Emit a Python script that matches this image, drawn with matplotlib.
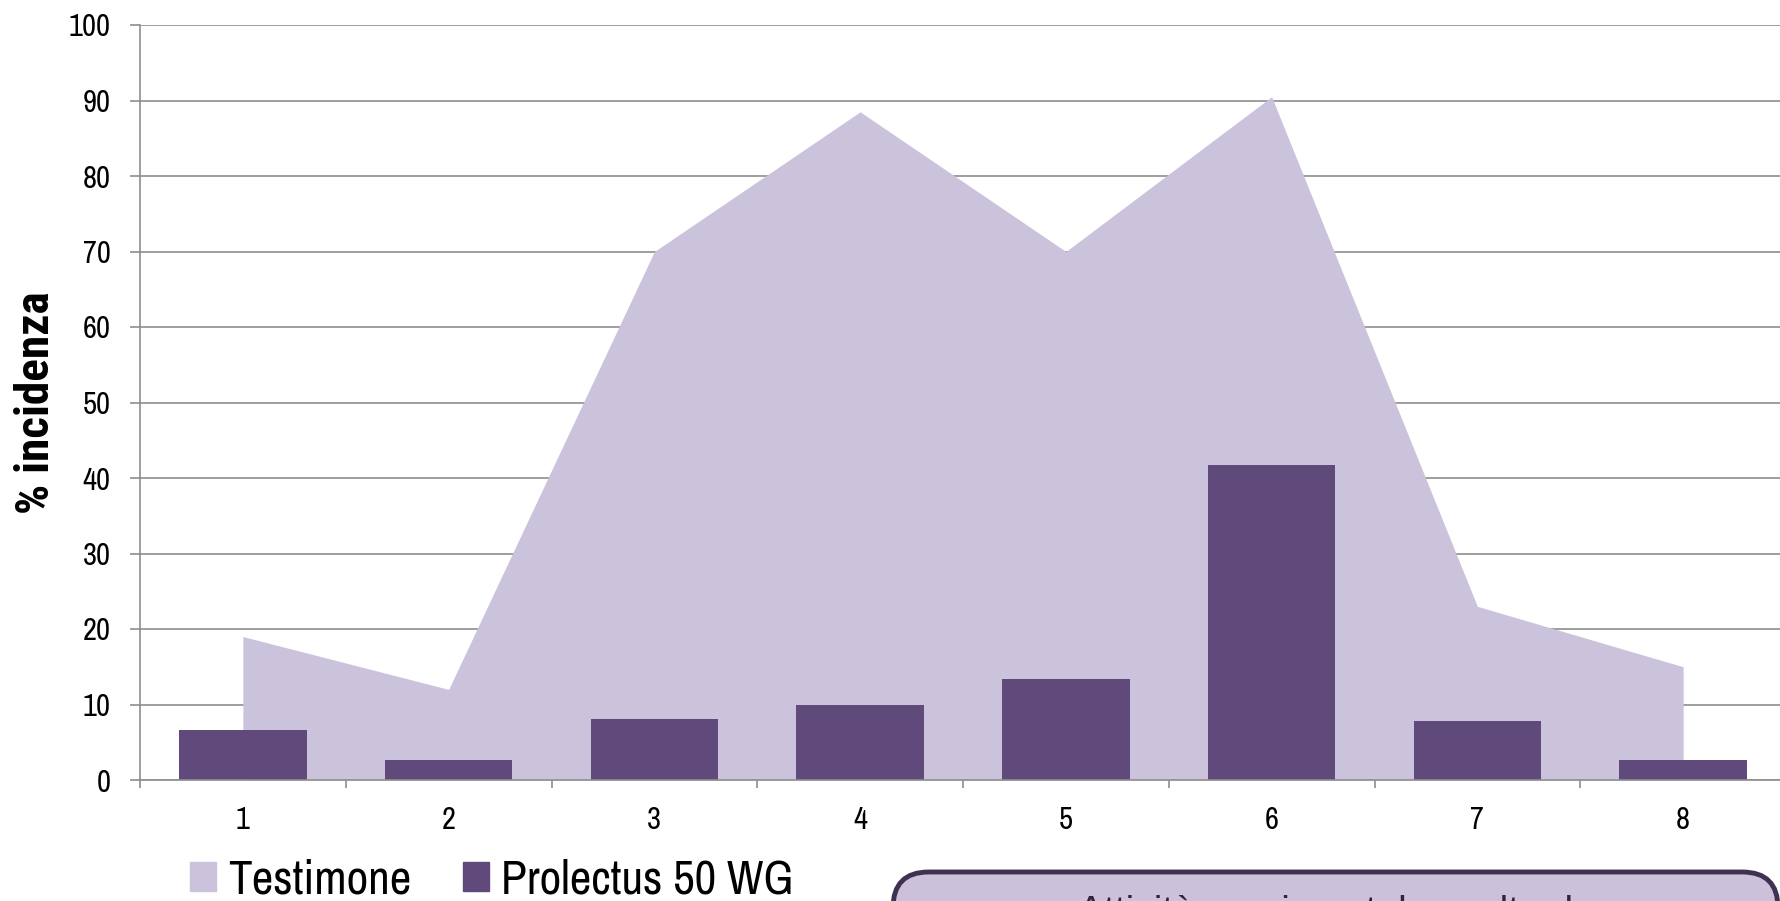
import numpy as np
import matplotlib.pyplot as plt
from matplotlib.patches import FancyBboxPatch, Patch

categories = ['1', '2', '3', '4', '5', '6', '7', '8']
testimone = [19, 12, 70, 88.5, 70, 90.5, 23, 15]
prolectus = [6.6, 2.7, 8.1, 10, 13.4, 41.7, 7.8, 2.6]
yticks = [0, 10, 20, 30, 40, 50, 60, 70, 80, 90, 100]

light = '#CBC2DB'
dark = '#604A7B'
grid_col = '#8E8E8E'

plt.rcParams['font.family'] = ['Archivo Narrow', 'Roboto Condensed', 'DejaVu Sans']


def main():
    fig = plt.figure(figsize=(17.81, 9.01), dpi=100)
    ax = fig.add_axes([140 / 1781, 121 / 901, 1646 / 1781, 755 / 901])

    x = np.arange(len(categories))
    ax.fill_between(x, 0, testimone, color=light, lw=0, zorder=2, label='Testimone')
    ax.bar(x, prolectus, width=0.62, color=dark, zorder=3, label='Prolectus 50 WG')

    ax.set_xlim(-0.5, len(categories) - 0.5)
    ax.set_ylim(0, 100)
    ax.set_yticks(yticks)
    ax.set_xticks(x)
    ax.set_xticklabels(categories)
    ax.set_xticks(np.arange(-0.5, len(categories), 1), minor=True)

    ax.yaxis.grid(True, color=grid_col, lw=1.2, zorder=0)
    ax.set_axisbelow(True)
    for s in ['top', 'right']:
        ax.spines[s].set_visible(False)
    for s in ['left', 'bottom']:
        ax.spines[s].set_color(grid_col)
        ax.spines[s].set_linewidth(1.2)
        ax.spines[s].set_zorder(4)

    ax.tick_params(axis='y', length=7, width=1.2, color=grid_col, labelsize=22, pad=14)
    ax.tick_params(axis='x', which='major', length=0, labelsize=22, pad=19)
    ax.tick_params(axis='x', which='minor', length=6, width=1.2, color=grid_col)

    ax.set_ylabel('% incidenza', fontsize=34, fontweight='bold',
                  family=['Roboto Condensed', 'DejaVu Sans'])
    ax.yaxis.set_label_coords(-104 / 1646, 0.5)
    ax.yaxis.label.set_verticalalignment('center')

    handles = [Patch(color=light), Patch(color=dark)]
    fig.legend(handles, ['Testimone', 'Prolectus 50 WG'], loc='upper left',
               bbox_to_anchor=(190 / 1781, 1 - 858 / 901), ncol=2, frameon=False,
               fontsize=34, handlelength=0.55, handleheight=0.55,
               handletextpad=0.25, columnspacing=1.1, borderpad=0, borderaxespad=0)

    # info box at the bottom, cut by the image edge as in the original
    box = FancyBboxPatch((893 / 1781, -0.2), 885 / 1781, (0.2 + (901 - 872) / 901),
                         boxstyle='round,pad=0,rounding_size=0.02',
                         transform=fig.transFigure, facecolor='#CCC1DA',
                         edgecolor='#3F3151', lw=3.5, zorder=5, mutation_aspect=2)
    fig.patches.append(box)
    fig.text((893 + 1780) / 2 / 1781, 1 - 895 / 901, 'Attività sperimentale svolta da',
             ha='center', va='top', fontsize=28, color='#2E2440',
             family=['Liberation Sans', 'DejaVu Sans'], zorder=6)

    fig.savefig('out.png', dpi=100)


if __name__ == '__main__':
    main()
